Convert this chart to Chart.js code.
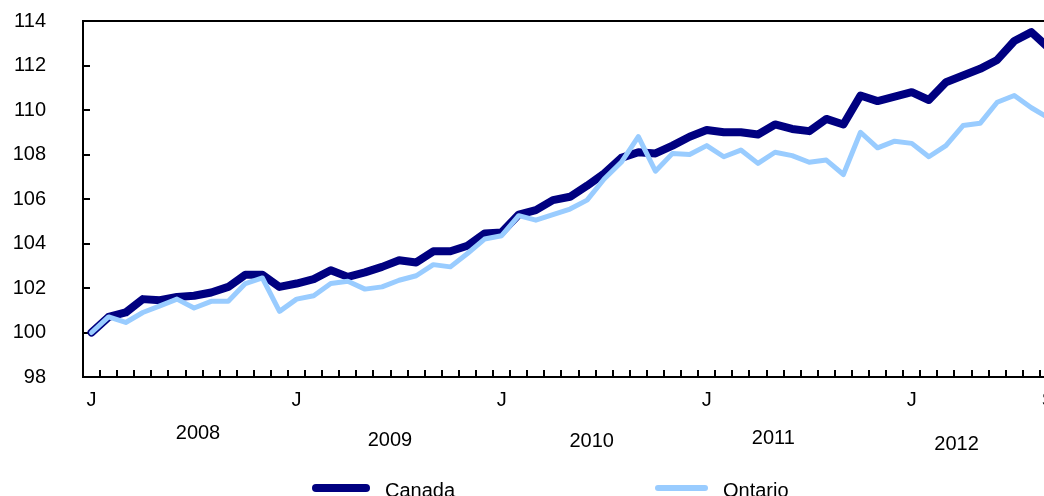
<!DOCTYPE html>
<html>
<head>
<meta charset="utf-8">
<script src="https://cdn.jsdelivr.net/npm/chart.js@4"></script>
<style>
  html, body { margin: 0; padding: 0; background: #fff; overflow: hidden; }
  #wrap { position: relative; width: 1057px; height: 496px; }
  .legend { position: absolute; top: 0; left: 0; font: 20px "Liberation Sans", Arial, sans-serif; color: #000; }
  .legend .swatch { position: absolute; border-radius: 4px; }
  .legend .txt { position: absolute; white-space: nowrap; line-height: 20px; }
</style>
</head>
<body>
<div id="wrap">
  <canvas id="indexChart"></canvas>
  <div class="legend">
    <div class="swatch" style="left:312px; top:484px; width:58px; height:8px; background:#000080;"></div>
    <div class="txt" style="left:385px; top:480px;">Canada</div>
    <div class="swatch" style="left:655px; top:485px; width:53px; height:6px; background:#99ccff;"></div>
    <div class="txt" style="left:723px; top:480px;">Ontario</div>
  </div>
</div>
<script>
// Monthly index, January 2008 = 100, through September 2012
const years = [2008, 2009, 2010, 2011, 2012];
const monthInitials = ['J', 'F', 'M', 'A', 'M', 'J', 'J', 'A', 'S', 'O', 'N', 'D'];
const lastMonth = 8; // September 2012

const canada = [
  100.0, 100.7, 100.9, 101.5, 101.45, 101.6, 101.65, 101.8, 102.05, 102.6, 102.6, 102.05,
  102.2, 102.4, 102.8, 102.5, 102.7, 102.95, 103.25, 103.15, 103.65, 103.65, 103.9, 104.45,
  104.5, 105.3, 105.5, 105.95, 106.1, 106.6, 107.15, 107.85, 108.1, 108.05, 108.4, 108.8,
  109.1, 109.0, 109.0, 108.9, 109.35, 109.15, 109.05, 109.6, 109.35, 110.65, 110.4, 110.6,
  110.8, 110.45, 111.25, 111.55, 111.85, 112.25, 113.1, 113.5, 112.8
];
const ontario = [
  100.0, 100.7, 100.45, 100.9, 101.2, 101.5, 101.1, 101.4, 101.4, 102.2, 102.45, 100.95,
  101.5, 101.65, 102.2, 102.3, 101.95, 102.05, 102.35, 102.55, 103.05, 102.95, 103.55, 104.2,
  104.35, 105.25, 105.05, 105.3, 105.55, 105.95, 106.9, 107.65, 108.8, 107.25, 108.05, 108.0,
  108.4, 107.9, 108.2, 107.6, 108.1, 107.95, 107.65, 107.75, 107.1, 109.0, 108.3, 108.6,
  108.5, 107.9, 108.4, 109.3, 109.4, 110.35, 110.65, 110.1, 109.65
];

const yearLabels = ['2008', '2009', '2010', '2011', '2012'];

// category labels: one per month
const categories = [];
years.forEach((yr, yi) => {
  monthInitials.forEach((m, mi) => {
    if (yi === years.length - 1 && mi > lastMonth) return;
    categories.push(m + ' ' + yr);
  });
});

Chart.defaults.font.family = '"Liberation Sans", Arial, sans-serif';
Chart.defaults.font.size = 20;
Chart.defaults.color = '#000';

// frame around the plot, plus year captions under the month ticks
const framePlugin = {
  id: 'frame',
  afterDraw(chart) {
    const { ctx, chartArea: a, scales } = chart;
    ctx.save();
    ctx.strokeStyle = '#000';
    ctx.lineWidth = 2;
    ctx.strokeRect(a.left, a.top, a.right - a.left, a.bottom - a.top);

    // year captions (index positions along the month axis, and baseline offsets)
    const at = [6.23, 17.46, 29.27, 39.9, 50.62];
    const dy = [0, 7, 8, 5, 11];
    ctx.fillStyle = '#000';
    ctx.font = '20px "Liberation Sans", Arial, sans-serif';
    ctx.textAlign = 'center';
    ctx.textBaseline = 'middle';
    yearLabels.forEach((t, i) => {
      ctx.fillText(t, scales.x.getPixelForValue(at[i]), a.bottom + 56 + dy[i]);
    });
    ctx.restore();
  }
};

// the big label paddings would otherwise leak into the layout
function noEdgePadding(scale) {
  scale.paddingTop = 0;
  scale.paddingBottom = 0;
  scale.paddingLeft = 0;
  scale.paddingRight = 0;
}

new Chart(document.getElementById('indexChart'), {
  type: 'line',
  data: {
    labels: categories,
    datasets: [
      {
        label: 'Canada',
        data: canada,
        borderColor: '#000080',
        borderWidth: 8,
        borderJoinStyle: 'round',
        borderCapStyle: 'round',
        pointRadius: 0,
        tension: 0,
        order: 2
      },
      {
        label: 'Ontario',
        data: ontario,
        borderColor: '#99ccff',
        borderWidth: 5,
        borderJoinStyle: 'round',
        borderCapStyle: 'round',
        pointRadius: 0,
        tension: 0,
        order: 1
      }
    ]
  },
  options: {
    responsive: true,
    maintainAspectRatio: false,
    animation: false,
    layout: { padding: { top: 21, left: 0, right: 0, bottom: 0 } },
    plugins: {
      legend: { display: false },
      tooltip: { enabled: false }
    },
    scales: {
      x: {
        offset: true,
        grid: {
          offset: true,
          drawOnChartArea: false,
          drawTicks: true,
          tickLength: -7,
          color: '#000',
          lineWidth: 2
        },
        border: { display: true, color: '#000', width: 2 },
        ticks: {
          autoSkip: false,
          maxRotation: 0,
          padding: 18,
          color: '#000',
          callback: function (value, index) {
            if (index === categories.length - 1) return categories[index].charAt(0);
            return index % 12 === 0 ? categories[index].charAt(0) : '';
          }
        },
        afterFit(scale) { scale.height = 119; noEdgePadding(scale); }
      },
      y: {
        min: 98,
        max: 114,
        grid: {
          drawOnChartArea: false,
          drawTicks: true,
          tickLength: -7,
          color: '#000',
          lineWidth: 2
        },
        border: { display: true, color: '#000', width: 2 },
        ticks: {
          stepSize: 2,
          padding: 44,
          color: '#000'
        },
        afterFit(scale) { scale.width = 83; noEdgePadding(scale); }
      }
    }
  },
  plugins: [framePlugin]
});
</script>
</body>
</html>
